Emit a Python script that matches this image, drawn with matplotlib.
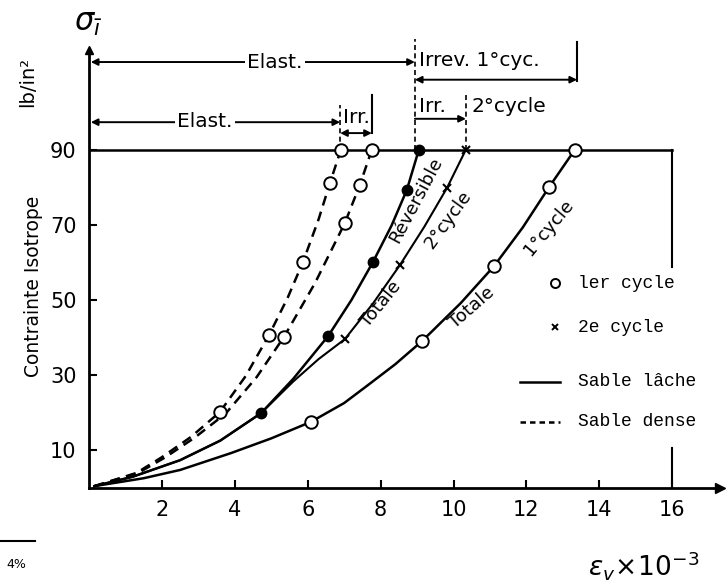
import matplotlib
matplotlib.use("Agg")
import matplotlib.pyplot as plt

# ---------------- data ----------------
# Sable dense, 1er cycle (left dashed curve)
denseA_x = [0.15, 1.3, 2.0, 2.8, 3.59, 4.3, 4.94, 5.45, 5.87, 6.3, 6.61, 6.91]
denseA_y = [0.5, 4.0, 8.2, 13.6, 20.2, 29.8, 40.7, 50.6, 60.1, 71.5, 81.1, 90.0]
denseA_mx = [3.59, 4.94, 5.87, 6.61, 6.91]
denseA_my = [20.2, 40.7, 60.1, 81.1, 90.0]

# Sable dense, second dashed curve
denseB_x = [0.15, 1.35, 2.1, 2.9, 3.75, 4.6, 5.35, 6.2, 7.02, 7.43, 7.76]
denseB_y = [0.5, 4.0, 8.2, 13.4, 19.8, 29.5, 40.2, 54.5, 70.5, 80.6, 90.0]
denseB_mx = [5.35, 7.02, 7.43, 7.76]
denseB_my = [40.2, 70.5, 80.6, 90.0]

# Sable lache, Reversible (filled dots)
rev_x = [0.15, 1.2, 2.5, 3.6, 4.72, 5.6, 6.56, 7.2, 7.79, 8.3, 8.72, 9.05]
rev_y = [0.5, 3.0, 7.4, 12.6, 19.9, 29.0, 40.4, 50.0, 60.1, 69.8, 79.3, 90.0]
rev_mx = [4.72, 6.56, 7.79, 8.72, 9.05]
rev_my = [19.9, 40.4, 60.1, 79.3, 90.0]

# Sable lache, Totale 2e cycle (crosses)
tot2_x = [0.15, 1.2, 2.5, 3.6, 4.72, 5.6, 6.3, 7.02, 7.8, 8.53, 9.2, 9.82, 10.34]
tot2_y = [0.5, 3.0, 7.4, 12.6, 19.9, 28.3, 34.3, 39.6, 49.2, 59.3, 69.5, 79.8, 90.0]
tot2_mx = [7.02, 8.53, 9.82, 10.34]
tot2_my = [39.6, 59.3, 79.8, 90.0]

# Sable lache, Totale 1er cycle (open circles)
tot1_x = [0.15, 1.5, 2.5, 3.9, 5.0, 6.09, 7.0, 7.63, 8.4, 9.14, 10.2, 11.11, 11.9, 12.62, 13.33]
tot1_y = [0.5, 2.6, 4.8, 9.3, 13.2, 17.6, 22.6, 27.2, 32.9, 39.1, 49.2, 59.0, 69.3, 80.0, 90.0]
tot1_mx = [6.09, 9.14, 11.11, 12.62, 13.33]
tot1_my = [17.6, 39.1, 59.0, 80.0, 90.0]

x_ticks = [2, 4, 6, 8, 10, 12, 14, 16]
y_ticks = [10, 30, 50, 70, 90]

# ---------------- figure ----------------
fig = plt.figure(figsize=(7.27, 5.88), dpi=100)
ax = fig.add_axes([89 / 727, 100 / 588, 630.6 / 727, 438 / 588])
ax.set_xlim(0, 17.3)
ax.set_ylim(0, 116.5)
for s in ["top", "right"]:
    ax.spines[s].set_visible(False)
for s in ["left", "bottom"]:
    ax.spines[s].set_linewidth(2.0)
ax.set_xticks(x_ticks)
ax.set_yticks(y_ticks)
ax.tick_params(direction="in", length=6, width=1.5, labelsize=15, pad=9)
ax.plot(1, 0, ">k", ms=7, transform=ax.get_yaxis_transform(), clip_on=False)
ax.plot(0, 1, "^k", ms=6, transform=ax.get_xaxis_transform(), clip_on=False)

LW = 1.8
dash = (0, (4, 2.6))
# frame lines at 90 and x = 16
ax.plot([0, 16], [90, 90], color="k", lw=LW)
ax.plot([16, 16], [90, 58.8], color="k", lw=1.5)
ax.plot([16, 16], [0, 10.6], color="k", lw=1.5)

ax.plot(denseA_x, denseA_y, color="k", lw=LW, ls=dash)
ax.plot(denseB_x, denseB_y, color="k", lw=LW, ls=dash)
ax.plot(rev_x, rev_y, color="k", lw=LW)
ax.plot(tot2_x, tot2_y, color="k", lw=1.5)
ax.plot(tot1_x, tot1_y, color="k", lw=LW)

op = dict(ls="none", marker="o", ms=9, mfc="white", mec="k", mew=1.4, zorder=5, clip_on=False)
ax.plot(denseA_mx, denseA_my, **op)
ax.plot(denseB_mx, denseB_my, **op)
ax.plot(tot1_mx, tot1_my, **op)
ax.plot(rev_mx, rev_my, ls="none", marker="o", ms=7.5, mfc="k", mec="k", zorder=5)
ax.plot(tot2_mx, tot2_my, ls="none", marker="x", ms=6, mec="k", mew=1.5, zorder=5,
        clip_on=False)

# ---------------- curve labels ----------------
cf = dict(fontsize=13, family="DejaVu Sans", ha="center", va="center", rotation_mode="anchor")
ax.text(8.97, 76.6, "Réversible", rotation=62, **cf)
ax.text(8.02, 49.0, "Totale", rotation=51, **cf)
ax.text(9.85, 71.3, "2°cycle", rotation=54, **cf)
ax.text(10.5, 47.9, "Totale", rotation=41, **cf)
ax.text(12.62, 69.3, "1°cycle", rotation=50, **cf)

# ---------------- top annotations ----------------
tf = dict(fontsize=14.5, family="DejaVu Sans", va="center", zorder=6)
wb = dict(fc="white", ec="none", pad=1.5)
arr = lambda st: dict(arrowstyle=st, lw=1.4, color="k", shrinkA=0, shrinkB=0, mutation_scale=10)


def harrow(x0, x1, y, st="<|-|>"):
    ax.annotate("", xy=(x1, y), xytext=(x0, y), arrowprops=arr(st), annotation_clip=False)


def vline(x, y0, y1, ls="-", lw=1.2):
    ax.plot([x, x], [y0, y1], color="k", lw=lw, ls=ls, clip_on=False)


# row 1
harrow(0.05, 8.94, 113.3)
ax.text(5.1, 113.3, "Elast.", ha="center", bbox=wb, **tf)
ax.text(9.05, 113.6, "Irrev. 1°cyc.", ha="left", **tf)
vline(13.39, 108.3, 118.6, lw=1.5)
harrow(8.94, 13.39, 108.6)
vline(8.94, 90, 119.5, ls=(0, (3, 2)))

# row 2
harrow(0.05, 6.89, 97.3)
ax.text(3.18, 97.5, "Elast.", ha="center", bbox=wb, **tf)
ax.text(7.33, 98.6, "Irr.", ha="center", **tf)
vline(7.76, 94.4, 104.5, lw=1.5)
harrow(6.89, 7.76, 94.4)
vline(6.89, 90, 102, ls=(0, (3, 2)))

ax.text(9.05, 101.5, "Irr.", ha="left", **tf)
harrow(8.94, 10.34, 98.2, st="-|>")
vline(10.34, 90, 104.5, ls=(0, (3, 2)))
ax.text(10.5, 101.5, "2°cycle", ha="left", **tf)

# ---------------- legend (drawn as text) ----------------
lf = dict(fontsize=13, family="Liberation Mono", va="center", ha="left")
ax.plot([12.78], [54.5], ls="none", marker="o", ms=6.5, mfc="white", mec="k", mew=1.4)
ax.text(13.42, 54.5, "ler cycle", **lf)
ax.plot([12.78], [42.8], ls="none", marker="x", ms=5, mec="k", mew=1.4)
ax.text(13.42, 42.8, "2e cycle", **lf)
ax.plot([11.82, 12.92], [28.2, 28.2], color="k", lw=LW)
ax.text(13.42, 28.2, "Sable lâche", **lf)
ax.plot([11.82, 12.92], [17.6, 17.6], color="k", lw=LW, ls=(0, (2.2, 1.6)))
ax.text(13.42, 17.6, "Sable dense", **lf)

# ---------------- axis titles ----------------
fig.text(88 / 727, 1 - 24 / 588, r"$\sigma_{\bar{\imath}}$", fontsize=22, ha="center", va="center")
fig.text(28 / 727, 1 - 82 / 588, "lb/in²", rotation=90, fontsize=14, ha="center", va="center")
fig.text(34 / 727, 1 - 286 / 588, "Contrainte Isotrope", rotation=90, fontsize=13.5,
         ha="center", va="center")
fig.text(644 / 727, 1 - 565 / 588, r"$\varepsilon_{v}\!\times\!10^{-3}$", fontsize=19,
         ha="center", va="center")
fig.add_artist(plt.Line2D([0, 35 / 727], [1 - 541 / 588, 1 - 541 / 588], color="k", lw=1.5))
fig.text(16 / 727, 1 - 565 / 588, "4%", fontsize=9, ha="center", va="center")

fig.savefig("out.png", dpi=100)
